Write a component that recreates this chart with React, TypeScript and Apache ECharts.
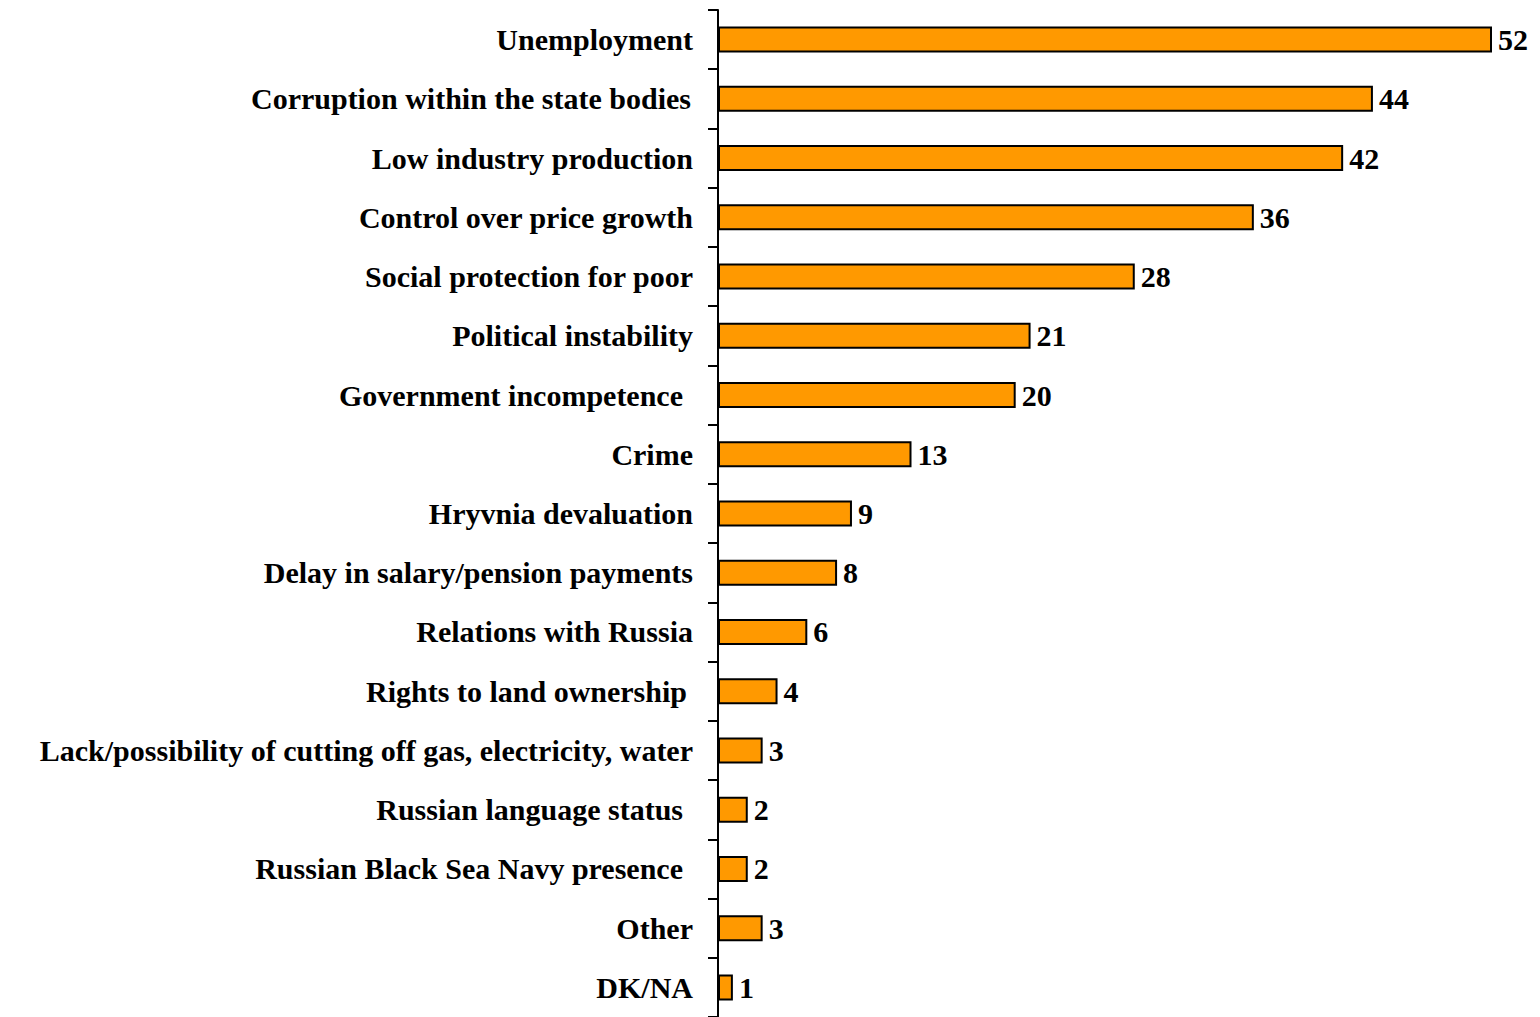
import React, { useEffect, useRef } from "react";
import * as echarts from "echarts";

const categories = [
  "Unemployment",
  "Corruption within the state bodies",
  "Low industry production",
  "Control over price growth",
  "Social protection for poor",
  "Political instability",
  "Government incompetence",
  "Crime",
  "Hryvnia devaluation",
  "Delay in salary/pension payments",
  "Relations with Russia",
  "Rights to land ownership",
  "Lack/possibility of cutting off gas, electricity, water",
  "Russian language status",
  "Russian Black Sea Navy presence",
  "Other",
  "DK/NA",
];

const values = [52, 44, 42, 36, 28, 21, 20, 13, 9, 8, 6, 4, 3, 2, 2, 3, 1];

// labels whose text in the original ends with a trailing space
const trailingGap: Record<string, string> = {
  "Corruption within the state bodies": "g2",
  "Government incompetence": "g10",
  "Rights to land ownership": "g6",
  "Russian language status": "g10",
  "Russian Black Sea Navy presence": "g10",
};

const FONT = '"Liberation Serif", "Times New Roman", serif';

export default function App() {
  const ref = useRef<HTMLDivElement>(null);
  useEffect(() => {
    if (!ref.current) return;
    const chart = echarts.init(ref.current, undefined, { renderer: "svg" });
    const pxPerUnit = 774 / 52;
    const xMax = 55;
    const base = {
      color: "#000",
      fontFamily: FONT,
      fontWeight: "bold" as const,
      fontSize: 30,
    };
    chart.setOption({
      animation: false,
      backgroundColor: "#ffffff",
      grid: {
        left: 718,
        top: 10,
        width: xMax * pxPerUnit,
        height: 17 * 59.45,
        containLabel: false,
      },
      xAxis: {
        type: "value",
        min: 0,
        max: xMax,
        show: false,
      },
      yAxis: {
        type: "category",
        data: categories,
        inverse: true,
        axisLine: { show: true, lineStyle: { color: "#000", width: 2 } },
        axisTick: {
          show: true,
          length: 10,
          inside: false,
          lineStyle: { color: "#000", width: 2 },
        },
        axisLabel: {
          margin: 25,
          ...base,
          interval: 0,
          formatter: (v: string) => {
            const g = trailingGap[v];
            return g ? `{${g}|${v}}` : v;
          },
          rich: {
            g2: { ...base, padding: [0, 2, 0, 0] },
            g6: { ...base, padding: [0, 6, 0, 0] },
            g10: { ...base, padding: [0, 10, 0, 0] },
          },
        },
        splitLine: { show: false },
      },
      series: [
        {
          type: "bar",
          data: values,
          barWidth: 26,
          itemStyle: {
            color: "#FF9900",
            borderColor: "#000",
            borderWidth: 2,
          },
          label: {
            show: true,
            position: "right",
            distance: 6,
            ...base,
          },
        },
      ],
    });
    return () => chart.dispose();
  }, []);
  return (
    <div
      ref={ref}
      style={{ position: "fixed", left: 0, top: 0, width: 1540, height: 1017 }}
    />
  );
}
